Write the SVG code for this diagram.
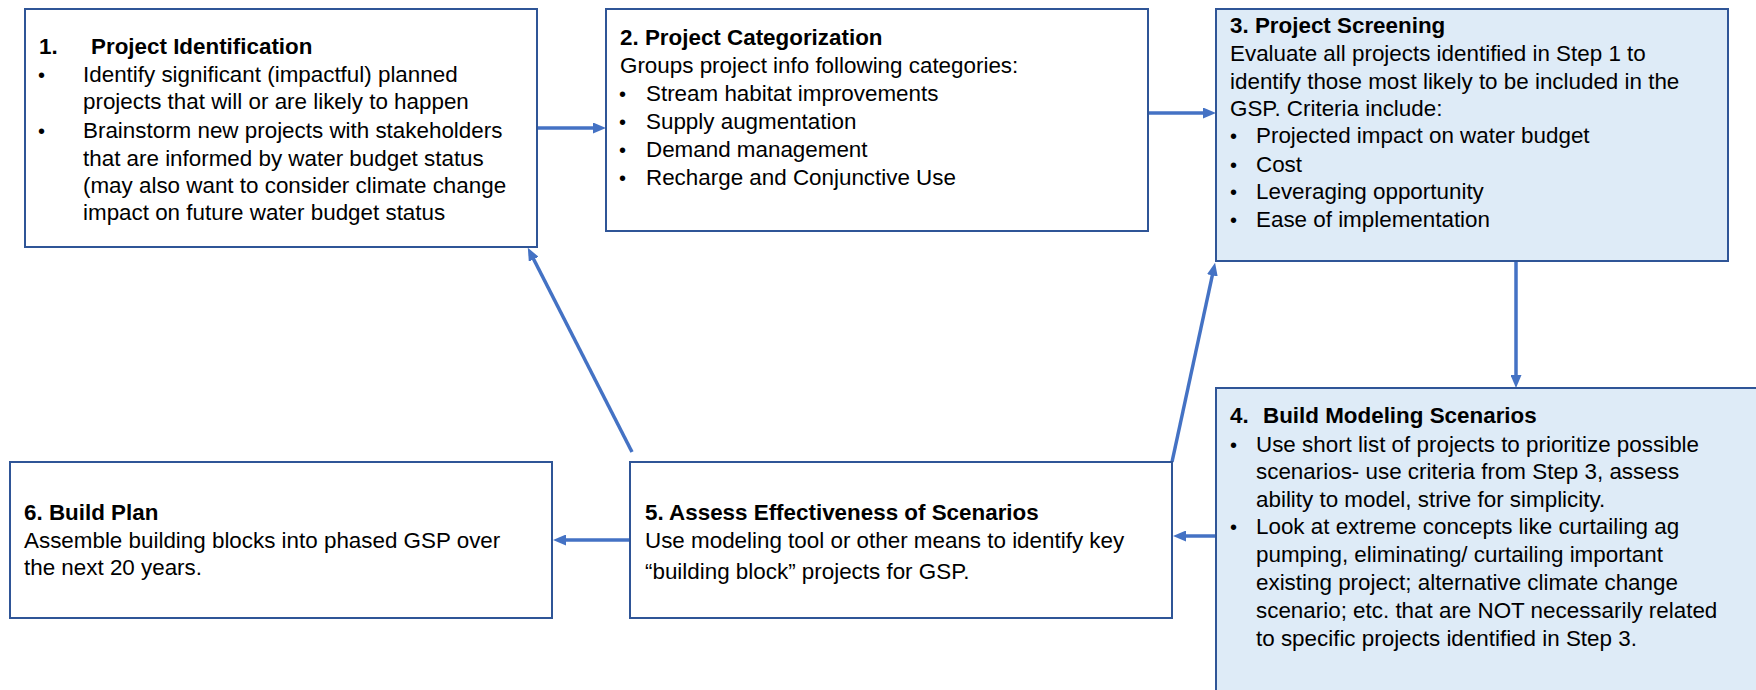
<svg xmlns="http://www.w3.org/2000/svg" width="1756" height="690" viewBox="0 0 1756 690">
<style>
.box{fill:#ffffff;stroke:#2f5597;stroke-width:2}
.blue{fill:#deebf7;stroke:#2f5597;stroke-width:2}
text{font-family:"Liberation Sans",Arial,sans-serif;font-size:22.4px;fill:#000}
.b{font-weight:bold}
.bul{font-size:20px}
.conn{stroke:#4472c4;stroke-width:3.5;fill:none;marker-end:url(#ah)}
</style>
<defs>
<marker id="ah" markerUnits="userSpaceOnUse" markerWidth="13" markerHeight="11" refX="6" refY="5.5" orient="auto">
<path d="M0,0 L13,5.5 L0,11 z" fill="#4472c4"/>
</marker>
</defs>
<rect width="1756" height="690" fill="#ffffff"/>
<g id="connectors">
<line class="conn" x1="537" y1="128" x2="599" y2="128"/>
<line class="conn" x1="1148" y1="113" x2="1209" y2="113"/>
<line class="conn" x1="1516" y1="261" x2="1516" y2="381"/>
<line class="conn" x1="1216" y1="536" x2="1180" y2="536"/>
<line class="conn" x1="630" y1="540" x2="560" y2="540"/>
<line class="conn" x1="632" y1="452" x2="531" y2="254"/>
<line class="conn" x1="1172" y1="462" x2="1213.6" y2="269.5"/>
</g>
<g id="node1">
<rect class="box" x="25" y="9" width="512" height="238"/>
<text class="b" x="39" y="54">1.</text>
<text class="b" x="91" y="54">Project Identification</text>
<text class="bul" x="38" y="82">•</text>
<text x="83" y="82">Identify significant (impactful) planned</text>
<text x="83" y="109">projects that will or are likely to happen</text>
<text class="bul" x="38" y="138">•</text>
<text x="83" y="138">Brainstorm new projects with stakeholders</text>
<text x="83" y="166">that are informed by water budget status</text>
<text x="83" y="193">(may also want to consider climate change</text>
<text x="83" y="220">impact on future water budget status</text>
</g>
<g id="node2">
<rect class="box" x="606" y="9" width="542" height="222"/>
<text class="b" x="620" y="45">2. Project Categorization</text>
<text x="620" y="73">Groups project info following categories:</text>
<text class="bul" x="619" y="101">•</text>
<text x="646" y="101">Stream habitat improvements</text>
<text class="bul" x="619" y="129">•</text>
<text x="646" y="129">Supply augmentation</text>
<text class="bul" x="619" y="157">•</text>
<text x="646" y="157">Demand management</text>
<text class="bul" x="619" y="185">•</text>
<text x="646" y="185">Recharge and Conjunctive Use</text>
</g>
<g id="node3">
<rect class="blue" x="1216" y="9" width="512" height="252"/>
<text class="b" x="1230" y="33">3. Project Screening</text>
<text x="1230" y="61">Evaluate all projects identified in Step 1 to</text>
<text x="1230" y="89">identify those most likely to be included in the</text>
<text x="1230" y="116">GSP. Criteria include:</text>
<text class="bul" x="1230" y="143">•</text>
<text x="1256" y="143">Projected impact on water budget</text>
<text class="bul" x="1230" y="172">•</text>
<text x="1256" y="172">Cost</text>
<text class="bul" x="1230" y="199">•</text>
<text x="1256" y="199">Leveraging opportunity</text>
<text class="bul" x="1230" y="227">•</text>
<text x="1256" y="227">Ease of implementation</text>
</g>
<g id="node4">
<rect class="blue" x="1216" y="388" width="560" height="320"/>
<text class="b" x="1230" y="423">4.</text>
<text class="b" x="1263" y="423">Build Modeling Scenarios</text>
<text class="bul" x="1230" y="452">•</text>
<text x="1256" y="452">Use short list of projects to prioritize possible</text>
<text x="1256" y="479">scenarios- use criteria from Step 3, assess</text>
<text x="1256" y="507">ability to model, strive for simplicity.</text>
<text class="bul" x="1230" y="534">•</text>
<text x="1256" y="534">Look at extreme concepts like curtailing ag</text>
<text x="1256" y="562">pumping, eliminating/ curtailing important</text>
<text x="1256" y="590">existing project; alternative climate change</text>
<text x="1256" y="618">scenario; etc. that are NOT necessarily related</text>
<text x="1256" y="646">to specific projects identified in Step 3.</text>
</g>
<g id="node5">
<rect class="box" x="630" y="462" width="542" height="156"/>
<text class="b" x="645" y="520">5. Assess Effectiveness of Scenarios</text>
<text x="645" y="548">Use modeling tool or other means to identify key</text>
<text x="645" y="579">“building block” projects for GSP.</text>
</g>
<g id="node6">
<rect class="box" x="10" y="462" width="542" height="156"/>
<text class="b" x="24" y="520">6. Build Plan</text>
<text x="24" y="548">Assemble building blocks into phased GSP over</text>
<text x="24" y="575">the next 20 years.</text>
</g>
</svg>
